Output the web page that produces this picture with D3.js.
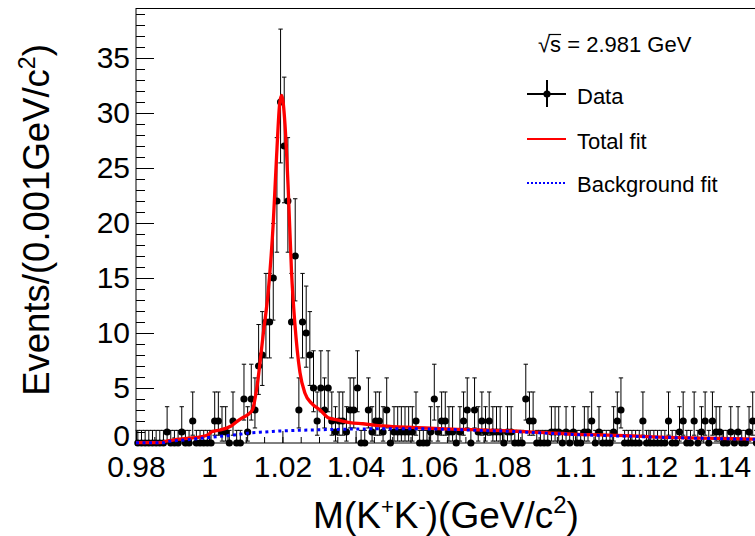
<!DOCTYPE html>
<html><head><meta charset="utf-8">
<script src="https://cdn.jsdelivr.net/npm/d3@7/dist/d3.min.js"></script>
<style>
body{margin:0;background:#fff}
svg{display:block}
text{font-family:"Liberation Sans",Arial,Helvetica,sans-serif;fill:#000}
</style>
</head><body>
<svg id="chart" width="755" height="536"></svg>
<script>
// ---------- data ----------
const binLow = 0.98;
const binWidth = 0.001;
const counts = [
  0,0,0,0,0,0,0,0,1,0,
  0,0,1,0,0,2,0,0,0,0,
  0,2,2,1,1,0,2,0,0,4,
  1,4,3,7,8,11,11,15,22,31,
  27,22,11,17,3,11,10,8,5,2,
  5,3,5,2,1,2,2,1,3,3,
  5,0,0,3,1,2,2,1,3,0,
  1,1,1,1,1,1,2,0,0,0,
  1,4,1,2,2,1,1,0,1,2,
  3,0,3,1,2,1,2,1,1,1,
  0,1,1,0,0,0,4,2,2,0,
  0,0,0,1,1,1,0,1,0,1,
  0,0,1,1,2,0,1,0,0,0,
  1,2,3,0,0,0,0,0,2,0,
  0,0,0,0,0,2,0,0,1,2,
  0,0,2,0,1,2,0,2,1,1,
  0,0,1,0,1,0,0,1,2,0
];
const fitX = [0.980,0.985,0.9874,0.9877,0.990,0.994,0.998,1.000,1.0007,1.003,1.006,1.0086,1.0104,1.0118,1.013,1.0148,1.0162,1.0175,1.0184,1.0193,1.0198,1.0207,1.0216,1.0225,1.0234,1.0248,1.0262,1.028,1.0303,1.0325,1.035,1.0385,1.042,1.0475,1.0567,1.0644,1.0734,1.0827,1.0917,1.1008,1.1068,1.1158,1.125,1.134,1.1431,1.15];
const fitTotal = [0.03,0.03,0.05,0.12,0.27,0.42,0.58,0.82,1.03,1.18,1.55,2.2,2.55,3.0,5.0,10.0,14.0,20.0,26.0,31.0,31.6,29.0,23.0,15.5,10.9,6.4,4.5,3.6,3.0,2.3,2.1,1.85,1.75,1.55,1.4,1.28,1.2,1.09,0.94,0.79,0.74,0.64,0.52,0.45,0.39,0.34];
const bkgX = [0.980,0.9874,0.9886,0.9931,0.9977,1.0022,1.0068,1.0118,1.015,1.02,1.03,1.04,1.05,1.06,1.0734,1.0827,1.0917,1.1008,1.1158,1.125,1.134,1.1431,1.15];
const bkgFit = [0.02,0.02,0.12,0.27,0.42,0.58,0.73,0.94,1.0,1.1,1.2,1.27,1.3,1.28,1.15,1.05,0.9,0.76,0.6,0.5,0.43,0.37,0.33];
const xTicks = [0.98,1.00,1.02,1.04,1.06,1.08,1.10,1.12,1.14];
const xTickLabels = ["0.98","1","1.02","1.04","1.06","1.08","1.1","1.12","1.14"];
const yTicks = [0,5,10,15,20,25,30,35];
const yTickLabels = ["0","5","10","15","20","25","30","35"];
const legendLabels = ["Data","Total fit","Background fit"];
const energyLabel = "2.981 GeV";

// ---------- helpers: Poisson (Garwood) intervals, RooFit style ----------
function poisCdf(n, mu){let t=Math.exp(-mu),s=t;for(let k=1;k<=n;k++){t*=mu/k;s+=t;}return s;}
function poissonInterval(n){
  const cl=0.682689;
  if(n===0) return [0,-Math.log(1-cl)];
  const a=(1-cl)/2;
  let lo=0,hi=n;
  for(let i=0;i<80;i++){const m=(lo+hi)/2; if(poisCdf(n-1,m)>1-a) lo=m; else hi=m;}
  const L=(lo+hi)/2;
  lo=n; hi=n+10*Math.sqrt(n)+10;
  for(let i=0;i<80;i++){const m=(lo+hi)/2; if(poisCdf(n,m)>a) lo=m; else hi=m;}
  return [L,(lo+hi)/2];
}

// ---------- layout ----------
const svg = d3.select("#chart");
const x = d3.scaleLinear().domain([0.98,1.15]).range([136,758.2]);
const y = d3.scaleLinear().domain([0,39.5]).range([443,8.5]);

// frame
svg.append("rect").attr("x",x(0.98)).attr("y",y(39.5)).attr("width",x(1.15)-x(0.98)).attr("height",y(0)-y(39.5))
  .attr("fill","none").attr("stroke","#000").attr("stroke-width",1);

// axes
function styleAxis(g,fs){g.attr("font-size",fs).attr("font-family","Liberation Sans, Arial, sans-serif");g.select(".domain").remove();g.selectAll("line").attr("stroke","#000");}
const gxMinor = svg.append("g").attr("transform",`translate(0,${y(0)})`)
  .call(d3.axisBottom(x).tickValues(d3.range(0,35).map(k=>0.98+k*0.005)).tickSize(-6).tickSizeOuter(0).tickFormat(""));
styleAxis(gxMinor,10);
const gx = svg.append("g").attr("transform",`translate(0,${y(0)})`)
  .call(d3.axisBottom(x).tickValues(xTicks).tickFormat((d,i)=>xTickLabels[i]).tickSize(-12).tickSizeOuter(0).tickPadding(13));
styleAxis(gx,30);
const gyMinor = svg.append("g").attr("transform",`translate(${x(0.98)},0)`)
  .call(d3.axisLeft(y).tickValues(d3.range(0,40)).tickSize(-9).tickSizeOuter(0).tickFormat(""));
styleAxis(gyMinor,10);
const gy = svg.append("g").attr("transform",`translate(${x(0.98)},0)`)
  .call(d3.axisLeft(y).tickValues(yTicks).tickFormat((d,i)=>yTickLabels[i]).tickSize(-18).tickSizeOuter(0).tickPadding(6));
styleAxis(gy,30);
gy.selectAll(".tick text").filter((d,i)=>i===0).attr("dy","0.08em");

// axis titles
const xt = svg.append("text").attr("x",446).attr("y",528).attr("text-anchor","middle").attr("font-size",37);
xt.append("tspan").text("M(K");
xt.append("tspan").attr("dy",-14).attr("font-size",22).text("+");
xt.append("tspan").attr("dy",14).text("K");
xt.append("tspan").attr("dy",-14).attr("font-size",22).text("-");
xt.append("tspan").attr("dy",14).text(")(GeV/c");
xt.append("tspan").attr("dy",-15).attr("font-size",24).text("2");
xt.append("tspan").attr("dy",15).text(")");

const yt = svg.append("text").attr("transform","translate(49,220) rotate(-90)").attr("text-anchor","middle").attr("font-size",36.5);
yt.append("tspan").text("Events/(0.001GeV/c");
yt.append("tspan").attr("dy",-14).attr("font-size",23).text("2");
yt.append("tspan").attr("dy",14).text(")");

// data points
const data = counts.map((n,i)=>{const [lo,hi]=poissonInterval(n);return {x0:binLow+i*binWidth,xc:binLow+(i+0.5)*binWidth,x1:binLow+(i+1)*binWidth,n,lo,hi};});
const gd = svg.append("g").attr("stroke","#000").attr("stroke-width",1);
const cap = 2.2;
data.forEach(d=>{
  gd.append("line").attr("x1",x(d.x0)).attr("x2",x(d.x1)).attr("y1",y(d.n)).attr("y2",y(d.n));
  gd.append("line").attr("x1",x(d.xc)).attr("x2",x(d.xc)).attr("y1",y(d.lo)).attr("y2",y(d.hi));
  gd.append("line").attr("x1",x(d.xc)-cap).attr("x2",x(d.xc)+cap).attr("y1",y(d.hi)).attr("y2",y(d.hi));
  if(d.n>0) gd.append("line").attr("x1",x(d.xc)-cap).attr("x2",x(d.xc)+cap).attr("y1",y(d.lo)).attr("y2",y(d.lo));
});
svg.append("g").selectAll("circle").data(data).join("circle")
  .attr("cx",d=>x(d.xc)).attr("cy",d=>y(d.n)).attr("r",3.6).attr("fill","#000");

// fit curves
const line = d3.line().x(d=>x(d[0])).y(d=>y(d[1])).curve(d3.curveMonotoneX);
svg.append("path").attr("d",line(fitX.map((v,i)=>[v,fitTotal[i]])))
  .attr("fill","none").attr("stroke","#ff0000").attr("stroke-width",3.3);
svg.append("path").attr("d",line(bkgX.map((v,i)=>[v,bkgFit[i]])))
  .attr("fill","none").attr("stroke","#0000ff").attr("stroke-width",3).attr("stroke-dasharray","3,3.5");

// legend
const lg = svg.append("g");
const st = lg.append("text").attr("x",538).attr("y",52).attr("font-size",22);
st.append("tspan").text("\u221A");
st.append("tspan").text("s");
st.append("tspan").text(" = " + energyLabel);
const sStart = st.node().getSubStringLength(0,1), sW = st.node().getSubStringLength(1,1);
lg.append("line").attr("x1",538+sStart-1.5).attr("x2",538+sStart+sW).attr("y1",34.5).attr("y2",34.5).attr("stroke","#000").attr("stroke-width",1.2);

lg.append("line").attr("x1",527).attr("x2",566).attr("y1",94).attr("y2",94).attr("stroke","#000").attr("stroke-width",2);
lg.append("line").attr("x1",547).attr("x2",547).attr("y1",80).attr("y2",107).attr("stroke","#000").attr("stroke-width",2);
lg.append("circle").attr("cx",547).attr("cy",94).attr("r",3.6).attr("fill","#000");
lg.append("text").attr("x",577).attr("y",104).attr("font-size",22).text(legendLabels[0]);
lg.append("line").attr("x1",527).attr("x2",566).attr("y1",139).attr("y2",139).attr("stroke","#ff0000").attr("stroke-width",2);
lg.append("text").attr("x",577).attr("y",149).attr("font-size",22).text(legendLabels[1]);
lg.append("line").attr("x1",527).attr("x2",566).attr("y1",183).attr("y2",183).attr("stroke","#0000ff").attr("stroke-width",2).attr("stroke-dasharray","2,2");
lg.append("text").attr("x",577).attr("y",192).attr("font-size",22).text(legendLabels[2]);
</script>
</body></html>
